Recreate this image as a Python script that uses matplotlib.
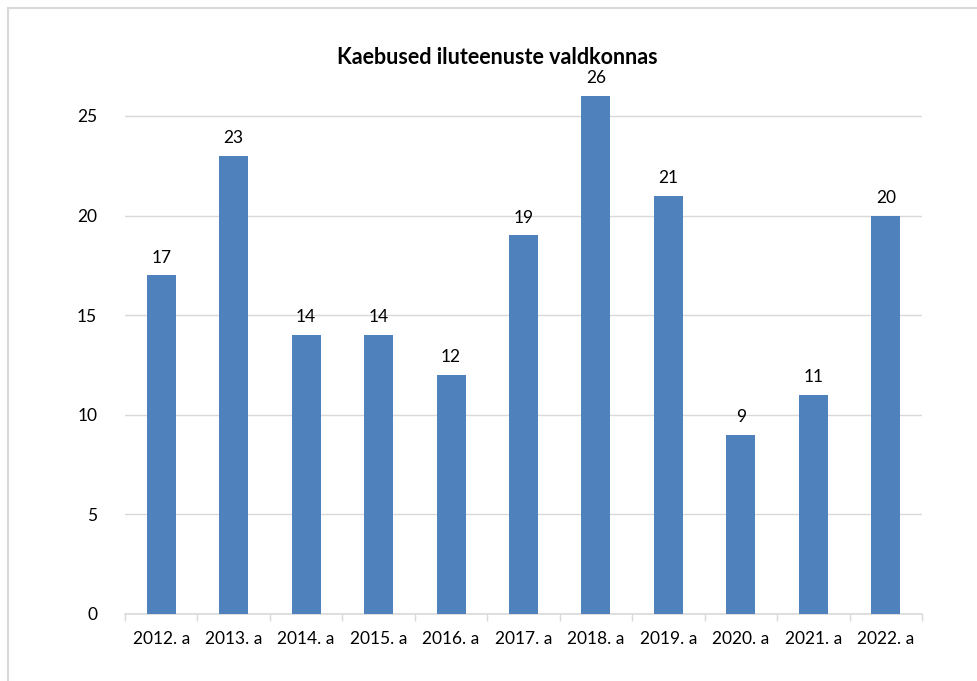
import matplotlib.pyplot as plt
from matplotlib.patches import Rectangle

plt.rcParams['font.family'] = ['Lato', 'DejaVu Sans']

years = ['2012. a', '2013. a', '2014. a', '2015. a', '2016. a', '2017. a',
         '2018. a', '2019. a', '2020. a', '2021. a', '2022. a']
complaints = [17, 23, 14, 14, 12, 19, 26, 21, 9, 11, 20]

fig = plt.figure(figsize=(9.78, 6.81), dpi=100)

# chart frame (light grey, runs off the right and bottom edges)
fig.patches.append(Rectangle((8 / 978, -0.1), 1.2, 1 - 8 / 681 + 0.1,
                             transform=fig.transFigure, fill=False,
                             edgecolor='#D9D9D9', linewidth=1.5))

ax = fig.add_axes([125 / 978, 67 / 681, 797 / 978, 528 / 681])
x = range(len(years))
ax.bar(x, complaints, width=0.4, color='#4F81BD', zorder=3)

for i, v in enumerate(complaints):
    ax.annotate(str(v), (i, v), xytext=(0, 7), textcoords='offset points',
                ha='center', va='bottom', fontsize=12.5, color='#000000')

ax.set_xlim(-0.5, len(years) - 0.5)
ax.set_ylim(0, 26.5)
ax.set_yticks(range(0, 26, 5))
ax.yaxis.grid(True, color='#D9D9D9', linewidth=1)
ax.set_axisbelow(True)

ax.set_xticks(list(x))
ax.set_xticklabels(years, fontsize=12.5)
ax.set_xticks([i - 0.5 for i in range(len(years) + 1)], minor=True)
ax.tick_params(axis='x', which='major', length=0, pad=12)
ax.tick_params(axis='x', which='minor', length=5, color='#D9D9D9', width=1)
ax.tick_params(axis='y', length=0, labelsize=12.5, pad=20)

for s in ['top', 'right', 'left']:
    ax.spines[s].set_visible(False)
ax.spines['bottom'].set_color('#D9D9D9')
ax.spines['bottom'].set_linewidth(1.2)

fig.text(497 / 978, 1 - 57 / 681, 'Kaebused iluteenuste valdkonnas',
         ha='center', va='center', fontsize=15.5, fontweight='bold')

fig.savefig('out.png', dpi=100)
